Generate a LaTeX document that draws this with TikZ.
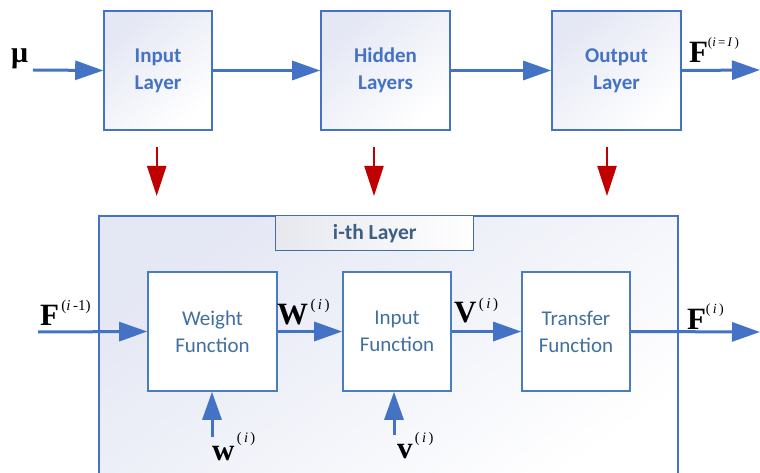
\documentclass[tikz,border=0pt]{standalone}
\usepackage{fontspec}
\setmainfont{Carlito}
\newfontfamily\tnr{Liberation Serif}
\usetikzlibrary{arrows.meta,shadings}
\definecolor{ablue}{HTML}{4472C4}
\definecolor{bblue}{HTML}{4A7DBF}
\definecolor{tblue}{HTML}{4472C4}
\definecolor{iblue}{HTML}{41709F}
\definecolor{ttl}{HTML}{3F5F82}
\definecolor{ttlb}{HTML}{41719C}
\definecolor{lav}{HTML}{E4E7F4}
\definecolor{tgray}{HTML}{E6E8EE}
\definecolor{ared}{HTML}{C00000}
\newcommand\bigL[1]{{\tnr\bfseries\fontsize{31}{31}\selectfont #1}}
\newcommand\supL[3]{\raisebox{#1}{\tnr\fontsize{#2}{#2}\selectfont #3}}
\tikzset{
  toplayer/.style={draw=ablue, line width=1.6pt, top color=lav, bottom color=white, shading angle=40,
    minimum height=119pt, inner sep=0pt, align=center, text=tblue,
    font=\fontsize{21}{27}\selectfont\bfseries},
  funbox/.style={draw=bblue, line width=1.6pt, fill=white, minimum width=108pt, minimum height=119pt,
    inner sep=0pt, align=center, text=iblue, font=\fontsize{21}{27}\selectfont},
  arr/.style={draw=ablue, line width=3pt, -{Triangle[length=28pt,width=19pt]}},
  redarr/.style={draw=ared, line width=2.2pt, -{Triangle[length=30pt,width=19pt]}},
  lab/.style={anchor=base west, inner sep=0pt, outer sep=0pt},
}
\begin{document}
\begin{tikzpicture}[x=1pt,y=-1pt]
\clip (0,0) rectangle (760,473);
\fill[white] (0,0) rectangle (760,473);

% top layers
\node[toplayer, minimum width=108pt] (inl) at (158,70.5) {Input\\Layer};
\node[toplayer, minimum width=129pt] (hid) at (385.5,70.5) {Hidden\\Layers};
\node[toplayer, minimum width=129pt] (outl) at (616.5,70.5) {Output\\Layer};

\coordinate (muend) at (33,70);
\coordinate (fend) at (760,70);
\draw[arr] (muend) -- (inl.west);
\draw[arr] (inl.east) -- (hid.west);
\draw[arr] (hid.east) -- (outl.west);
\draw[arr] (outl.east) -- (fend);

\node[lab] (mu) at (11,63) {{\tnr\bfseries\fontsize{30}{30}\selectfont μ}};
\node[lab] (fI) at (689,63) {\bigL{F}\supL{16pt}{13}{(\textit{i}\,=\,\textit{I}\,)}};

% red arrows
\foreach \x/\n in {156.7/a,374/b,607/c}{
  \coordinate (r\n1) at (\x,147);
  \coordinate (r\n2) at (\x,196);
  \draw[redarr] (r\n1) -- (r\n2);
}

% i-th layer box
\node[draw=ablue, line width=1.6pt, top color=lav, bottom color=white, shading angle=35,
  minimum width=579pt, minimum height=275pt, inner sep=0pt, anchor=north west] (big) at (98,215) {};
\node[draw=ttlb, line width=1.4pt, left color=tgray, right color=white,
  minimum width=198pt, minimum height=35pt, inner sep=0pt, anchor=north west,
  text=ttl, font=\fontsize{21.5}{24}\selectfont\bfseries] (ttlbox) at (275,215) {i-th Layer};

% function boxes
\node[funbox, minimum width=129pt] (wf) at (212.5,331.5) {Weight\\Function};
\node[funbox] (if) at (397,331.5) {Input\\Function};
\node[funbox] (tf) at (576,331.5) {Transfer\\Function};

\coordinate (fin) at (38,332);
\coordinate (fout) at (760,332);
\coordinate (win) at (212,437);
\coordinate (vin) at (394,435);
\draw[arr] (fin) -- (wf.west);
\draw[arr] (wf.east) -- (if.west);
\draw[arr] (if.east) -- (tf.west);
\draw[arr] (tf.east) -- (fout);
\draw[arr] (win) -- (win |- wf.south);
\draw[arr] (vin) -- (vin |- if.south);

% labels
\node[lab] (lf1) at (40,325) {\bigL{F}\supL{15pt}{15}{\,(\textit{i}\,-1)}};
\node[lab] (lW) at (277,324) {\bigL{W}\supL{14.5pt}{15}{\,(\,\textit{i}\,)}};
\node[lab] (lV) at (454,322) {\bigL{V}\supL{14pt}{15}{\,(\,\textit{i}\,)}};
\node[lab] (lF) at (687,329) {\bigL{F}\supL{15.5pt}{14}{(\,\textit{i}\,)}};
\node[lab] (lw) at (212,460) {\bigL{w}\supL{18pt}{14.5}{\,(\,\textit{i}\,)}};
\node[lab] (lv) at (397,458) {\bigL{v}\supL{16pt}{14.5}{\,(\,\textit{i}\,)}};
\end{tikzpicture}
\end{document}
